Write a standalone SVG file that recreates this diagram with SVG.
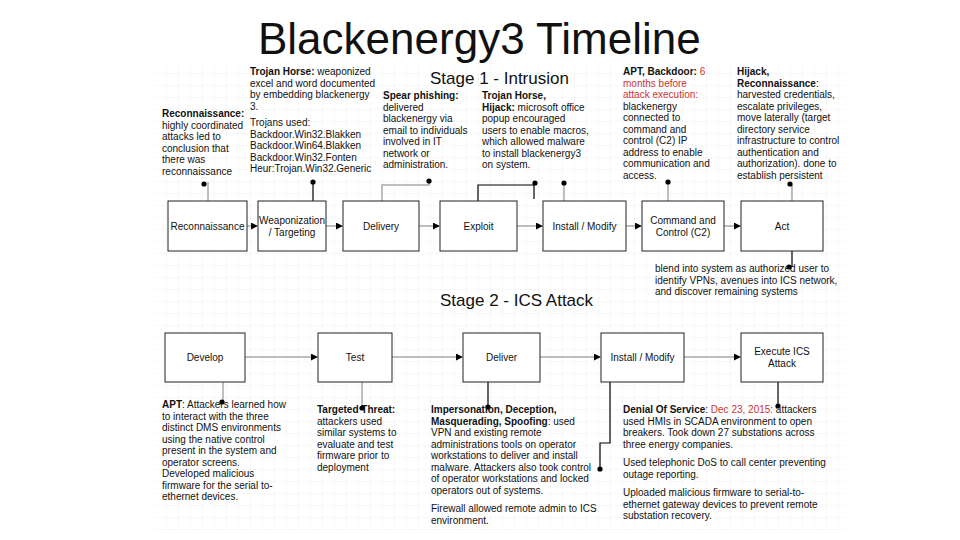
<svg xmlns="http://www.w3.org/2000/svg" width="960" height="540" viewBox="0 0 960 540">
<defs>
<pattern id="grid" x="155" y="62" width="12" height="12" patternUnits="userSpaceOnUse">
<path d="M12 0V12H0" fill="none" stroke="#f0f0f0" stroke-width="1"/>
</pattern>
<marker id="arr" viewBox="0 0 8 8" refX="7" refY="4" markerWidth="7" markerHeight="7" markerUnits="userSpaceOnUse" orient="auto">
<path d="M0 0L8 4L0 8Z" fill="#000"/>
</marker>
</defs>
<style>
text{font-family:"Liberation Sans",Arial,Helvetica,sans-serif;fill:#111}
.t{font-size:10px}
.b{font-weight:bold}
.r{fill:#cc3333}
.box{fill:#fff;stroke:#222;stroke-width:1}
.lbl{font-size:10px;text-anchor:middle}
.g{fill:none;stroke:#aaa;stroke-width:1.5}
.k{fill:none;stroke:#000;stroke-width:1.2}
.dot{fill:#000}
</style>
<rect width="960" height="540" fill="#fff"/>
<rect x="155" y="62" width="690" height="468" fill="url(#grid)"/>
<text x="258" y="54" font-size="44">Blackenergy3 Timeline</text>
<text x="430" y="84" font-size="17">Stage 1 - Intrusion</text>
<text x="440" y="306" font-size="17">Stage 2 - ICS Attack</text>

<g id="connectors">
<path class="g" d="M247 226H257" marker-end="url(#arr)"/>
<path class="g" d="M326 226H342" marker-end="url(#arr)"/>
<path class="g" d="M419 226H439" marker-end="url(#arr)"/>
<path class="g" d="M517 226H542" marker-end="url(#arr)"/>
<path class="g" d="M626 226H641" marker-end="url(#arr)"/>
<path class="g" d="M724 226H740" marker-end="url(#arr)"/>
<path class="g" d="M245 357H317" marker-end="url(#arr)"/>
<path class="g" d="M392 357H462" marker-end="url(#arr)"/>
<path class="g" d="M540 357H600" marker-end="url(#arr)"/>
<path class="g" d="M684 357H740" marker-end="url(#arr)"/>
<path class="g" d="M208 201V182"/><circle class="dot" cx="204" cy="184" r="2.6"/>
<path class="k" d="M313 201V182"/><circle class="dot" cx="313" cy="182" r="2.6"/>
<path class="g" d="M382 201V185H429V181"/><circle class="dot" cx="429" cy="181" r="2.6"/>
<path class="k" d="M478 201V185H534V199"/><circle class="dot" cx="535" cy="183" r="2.6"/>
<path class="g" d="M564 201V183"/><circle class="dot" cx="564" cy="183" r="2.6"/>
<path class="g" d="M668 201V183"/><circle class="dot" cx="668" cy="182" r="2.6"/>
<path class="g" d="M792 201V185"/><circle class="dot" cx="790" cy="184" r="2.6"/>
<path class="k" d="M792 251V267"/><circle class="dot" cx="789" cy="267" r="2.6"/>
<path class="g" d="M223 382V402"/><circle class="dot" cx="222" cy="402" r="2.6"/>
<path class="g" d="M362 382V408"/><circle class="dot" cx="362" cy="408" r="2.6"/>
<path class="k" d="M488 382V407"/><circle class="dot" cx="488" cy="407" r="2.6"/>
<path class="k" d="M610 382V443H600V469"/><circle class="dot" cx="600" cy="469" r="2.6"/>
<path class="k" d="M778 382V406"/><circle class="dot" cx="778" cy="406" r="2.6"/>
</g>

<g id="n-recon"><rect class="box" x="168" y="201" width="79" height="50"/><text class="lbl" x="207.5" y="229.5">Reconnaissance</text></g>
<g id="n-weap"><rect class="box" x="258" y="201" width="68" height="50"/><text class="lbl" x="292" y="223.5">Weaponization</text><text class="lbl" x="292" y="235.5">/ Targeting</text></g>
<g id="n-delivery"><rect class="box" x="343" y="201" width="76" height="50"/><text class="lbl" x="381" y="229.5">Delivery</text></g>
<g id="n-exploit"><rect class="box" x="440" y="201" width="77" height="50"/><text class="lbl" x="478.5" y="229.5">Exploit</text></g>
<g id="n-install1"><rect class="box" x="543" y="201" width="83" height="50"/><text class="lbl" x="584.5" y="229.5">Install / Modify</text></g>
<g id="n-c2"><rect class="box" x="642" y="201" width="82" height="50"/><text class="lbl" x="683" y="223.5">Command and</text><text class="lbl" x="683" y="235.5">Control (C2)</text></g>
<g id="n-act"><rect class="box" x="741" y="201" width="82" height="50"/><text class="lbl" x="782" y="229.5">Act</text></g>

<g id="n-develop"><rect class="box" x="165" y="333" width="80" height="49"/><text class="lbl" x="205" y="361">Develop</text></g>
<g id="n-test"><rect class="box" x="318" y="333" width="74" height="49"/><text class="lbl" x="355" y="361">Test</text></g>
<g id="n-deliver"><rect class="box" x="463" y="333" width="77" height="49"/><text class="lbl" x="501.5" y="361">Deliver</text></g>
<g id="n-install2"><rect class="box" x="601" y="333" width="83" height="49"/><text class="lbl" x="642.5" y="361">Install / Modify</text></g>
<g id="n-execute"><rect class="box" x="741" y="333" width="82" height="49"/><text class="lbl" x="782" y="355">Execute ICS</text><text class="lbl" x="782" y="367">Attack</text></g>

<g id="t-recon" class="t">
<text x="162" y="117"><tspan class="b">Reconnaissance:</tspan></text>
<text x="162" y="128.5">highly coordinated</text>
<text x="162" y="140">attacks led to</text>
<text x="162" y="151.5">conclusion that</text>
<text x="162" y="163">there was</text>
<text x="162" y="174.5">reconnaissance</text>
</g>
<g id="t-trojan" class="t">
<text x="250" y="75"><tspan class="b">Trojan Horse:</tspan> weaponized</text>
<text x="250" y="86.5">excel and word documented</text>
<text x="250" y="98">by embedding blackenergy</text>
<text x="250" y="109.5">3.</text>
<text x="250" y="126">Trojans used:</text>
<text x="250" y="137.5">Backdoor.Win32.Blakken</text>
<text x="250" y="149">Backdoor.Win64.Blakken</text>
<text x="250" y="160.5">Backdoor.Win32.Fonten</text>
<text x="250" y="172">Heur:Trojan.Win32.Generic</text>
</g>
<g id="t-spear" class="t">
<text x="383" y="99"><tspan class="b">Spear phishing:</tspan></text>
<text x="383" y="110.5">delivered</text>
<text x="383" y="122">blackenergy via</text>
<text x="383" y="133.5">email to individuals</text>
<text x="383" y="145">involved in IT</text>
<text x="383" y="156.5">network or</text>
<text x="383" y="168">administration.</text>
</g>
<g id="t-hijack" class="t">
<text x="482" y="99"><tspan class="b">Trojan Horse,</tspan></text>
<text x="482" y="110.5"><tspan class="b">Hijack:</tspan> microsoft office</text>
<text x="482" y="122">popup encouraged</text>
<text x="482" y="133.5">users to enable macros,</text>
<text x="482" y="145">which allowed malware</text>
<text x="482" y="156.5">to install blackenergy3</text>
<text x="482" y="168">on system.</text>
</g>
<g id="t-apt" class="t">
<text x="623" y="75"><tspan class="b">APT, Backdoor:</tspan>  <tspan class="r">6</tspan></text>
<text x="623" y="86.5" class="r">months before</text>
<text x="623" y="98" class="r">attack execution:</text>
<text x="623" y="109.5">blackenergy</text>
<text x="623" y="121">connected to</text>
<text x="623" y="132.5">command and</text>
<text x="623" y="144">control (C2) IP</text>
<text x="623" y="155.5">address to enable</text>
<text x="623" y="167">communication and</text>
<text x="623" y="178.5">access.</text>
</g>
<g id="t-hijack2" class="t">
<text x="737" y="75"><tspan class="b">Hijack,</tspan></text>
<text x="737" y="86.5"><tspan class="b">Reconnaissance</tspan>:</text>
<text x="737" y="98">harvested credentials,</text>
<text x="737" y="109.5">escalate privileges,</text>
<text x="737" y="121">move laterally (target</text>
<text x="737" y="132.5">directory service</text>
<text x="737" y="144">infrastructure to control</text>
<text x="737" y="155.5">authentication and</text>
<text x="737" y="167">authorization). done to</text>
<text x="737" y="178.5">establish persistent</text>
</g>
<g id="t-blend" class="t">
<text x="655" y="272">blend into system as authorized user to</text>
<text x="655" y="283.5">identify VPNs, avenues into ICS network,</text>
<text x="655" y="295">and discover remaining systems</text>
</g>
<g id="t-apt2" class="t">
<text x="162" y="408"><tspan class="b">APT</tspan>: Attackers learned how</text>
<text x="162" y="419.5">to interact with the three</text>
<text x="162" y="431">distinct DMS environments</text>
<text x="162" y="442.5">using the native control</text>
<text x="162" y="454">present in the system and</text>
<text x="162" y="465.5">operator screens.</text>
<text x="162" y="477">Developed malicious</text>
<text x="162" y="488.5">firmware for the serial to-</text>
<text x="162" y="500">ethernet devices.</text>
</g>
<g id="t-targeted" class="t">
<text x="317" y="413"><tspan class="b">Targeted Threat:</tspan></text>
<text x="317" y="424.5">attackers used</text>
<text x="317" y="436">similar systems to</text>
<text x="317" y="447.5">evaluate and test</text>
<text x="317" y="459">firmware prior to</text>
<text x="317" y="470.5">deployment</text>
</g>
<g id="t-imp" class="t">
<text x="431" y="413"><tspan class="b">Impersonation, Deception,</tspan></text>
<text x="431" y="424.5"><tspan class="b">Masquerading, Spoofing</tspan>:  used</text>
<text x="431" y="436">VPN and existing remote</text>
<text x="431" y="447.5">administrations tools on operator</text>
<text x="431" y="459">workstations to deliver and install</text>
<text x="431" y="470.5">malware.  Attackers also took control</text>
<text x="431" y="482">of operator workstations and locked</text>
<text x="431" y="493.5">operators out of systems.</text>
<text x="431" y="512">Firewall allowed remote admin to ICS</text>
<text x="431" y="523.5">environment.</text>
</g>
<g id="t-dos" class="t">
<text x="623" y="413"><tspan class="b">Denial Of Service</tspan>:  <tspan class="r">Dec 23, 2015:</tspan>  attackers</text>
<text x="623" y="424.5">used HMIs in SCADA environment to open</text>
<text x="623" y="436">breakers. Took down 27 substations across</text>
<text x="623" y="447.5">three energy companies.</text>
<text x="623" y="466">Used telephonic DoS to call center preventing</text>
<text x="623" y="477.5">outage reporting.</text>
<text x="623" y="496">Uploaded malicious firmware to serial-to-</text>
<text x="623" y="507.5">ethernet gateway devices to prevent remote</text>
<text x="623" y="519">substation recovery.</text>
</g>
</svg>
